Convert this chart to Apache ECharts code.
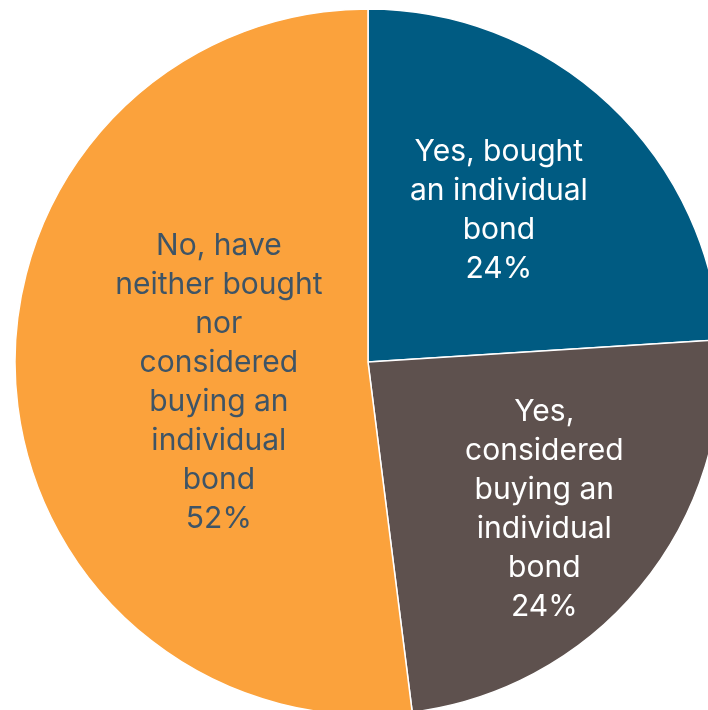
<!DOCTYPE html>
<html>
<head>
<meta charset="utf-8">
<script src="https://cdn.jsdelivr.net/npm/echarts@6/dist/echarts.min.js"></script>
<style>
  html, body { margin: 0; padding: 0; background: #ffffff; }
  #chart { width: 708px; height: 710px; }
</style>
</head>
<body>
<div id="chart"></div>
<script>
// Survey answers: have you bought or considered buying an individual bond?
const categories = [
  'Yes, bought\nan individual\nbond',
  'Yes,\nconsidered\nbuying an\nindividual\nbond',
  'No, have\nneither bought\nnor\nconsidered\nbuying an\nindividual\nbond'
];
const shares = [24, 24, 52];
const sliceColors = ['#005b82', '#5e514e', '#fba23c'];
const labelColors = ['#ffffff', '#ffffff', '#3e5466'];
// nudges that move each label from the slice midpoint to its spot
const labelNudges = [[8, -21], [38, 33], [30, 9]];

const chart = echarts.init(document.getElementById('chart'), null, { renderer: 'canvas' });

chart.setOption({
  animation: false,
  backgroundColor: '#ffffff',
  series: [{
    type: 'pie',
    center: [368, 362],
    radius: [0, 353],
    startAngle: 90,
    clockwise: true,
    silent: true,
    data: categories.map((name, i) => ({
      name: name,
      value: shares[i],
      itemStyle: { color: sliceColors[i] },
      label: { color: labelColors[i] }
    })),
    itemStyle: { borderColor: '#ffffff', borderWidth: 1.5 },
    label: {
      show: true,
      position: 'inside',
      formatter: p => p.name + '\n' + p.value + '%',
      fontFamily: 'Inter',
      fontWeight: 'normal',
      fontSize: 30,
      lineHeight: 39,
      align: 'center'
    },
    labelLine: { show: false },
    labelLayout: function (params) {
      const n = labelNudges[params.dataIndex];
      return { dx: n[0], dy: n[1] };
    }
  }]
});
</script>
</body>
</html>
